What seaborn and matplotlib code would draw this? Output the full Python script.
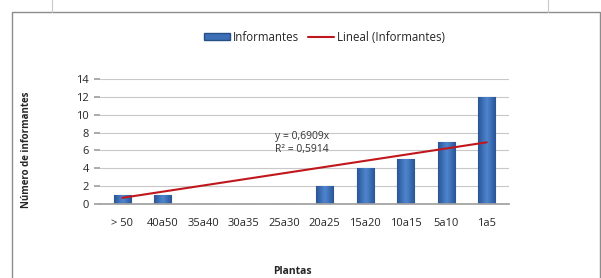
import numpy as np
import pandas as pd
import matplotlib.pyplot as plt
import seaborn as sns
from matplotlib.patches import Rectangle
from matplotlib.lines import Line2D
from matplotlib.colors import LinearSegmentedColormap

# data
plantas = ['> 50', '40a50', '35a40', '30a35', '25a30', '20a25', '15a20', '10a15', '5a10', '1a5']
informantes = [1, 1, 0, 0, 0, 2, 4, 5, 7, 12]
pendiente = 0.6909
r2 = 0.5914

df = pd.DataFrame({'Plantas': plantas, 'Informantes': informantes})

sns.set_theme(style='white')
plt.rcParams['font.family'] = ['Open Sans', 'DejaVu Sans']

fig = plt.figure(figsize=(6.01, 2.78), dpi=100)
ax = fig.add_axes([100 / 601, 1 - 204 / 278, 409 / 601, 125 / 278])

sns.barplot(data=df, x='Plantas', y='Informantes', color='#3C6FB6', edgecolor='#274F86',
            linewidth=0.8, width=0.42, saturation=1, ax=ax)

# shaded look on the bars (dark edges, lighter middle)
shade = LinearSegmentedColormap.from_list('shade', ['#2A5596', '#4F86D0', '#2A5596'])
grad = np.linspace(0, 1, 64).reshape(1, -1)
for bar in ax.patches:
    h = bar.get_height()
    if h <= 0:
        continue
    x0 = bar.get_x()
    im = ax.imshow(grad, cmap=shade, aspect='auto', zorder=bar.get_zorder() + 0.1,
                   extent=(x0, x0 + bar.get_width(), 0, h))
    im.set_clip_path(bar)

# linear trend through origin, x = 1..n
xs = np.arange(len(plantas))
ax.plot(xs, pendiente * (xs + 1), color='#C0171C', lw=1.5, zorder=5)

ax.set_ylim(0, 14)
ax.set_yticks(range(0, 15, 2))
ax.set_xlim(-0.55, len(plantas) - 0.45)
ax.yaxis.grid(True, color='#c8c8c8', lw=0.8)
ax.set_axisbelow(True)
for s in ['top', 'right', 'left']:
    ax.spines[s].set_visible(False)
ax.spines['bottom'].set_color('#a0a0a0')
ax.tick_params(axis='y', length=4, color='#a0a0a0', labelsize=8, pad=4, left=True)
ax.tick_params(axis='x', length=0, labelsize=8, pad=10)
ax.set_xlabel('')
ax.set_ylabel('')

ax.text(3.76, 6.8, 'y = 0,6909x\nR² = 0,5914', fontsize=7.5, color='#333333',
        linespacing=1.3, va='center', zorder=6)

fig.text(27 / 601, 1 - 150 / 278, 'Número de informantes', rotation=90, fontsize=7,
         fontweight='bold', ha='center', va='center')
fig.text(292 / 601, 1 - 272 / 278, 'Plantas', fontsize=7.5, fontweight='bold',
         ha='center', va='center')

handles = [Rectangle((0, 0), 1, 1, facecolor='#3C6FB6', edgecolor='#274F86'),
           Line2D([0], [0], color='#C0171C', lw=1.5)]
fig.legend(handles, ['Informantes', 'Lineal (Informantes)'], loc='center',
           bbox_to_anchor=(324 / 601, 1 - 37 / 278), ncol=2, frameon=False,
           fontsize=8.3, handlelength=2.3, handleheight=0.5, columnspacing=0.8,
           handletextpad=0.2)

# chart frame and page margin marks
fig.patches.append(Rectangle((12 / 601, -0.1), 588 / 601, 1.1 - 12 / 278,
                             transform=fig.transFigure, fill=False,
                             edgecolor='#8c8c8c', lw=1))
fig.lines.append(Line2D([52 / 601, 52 / 601], [1, 1 - 12 / 278],
                        transform=fig.transFigure, color='#c8c8c8', lw=0.8))
fig.lines.append(Line2D([548 / 601, 548 / 601], [1, 1 - 12 / 278],
                        transform=fig.transFigure, color='#c8c8c8', lw=0.8))

fig.savefig('out.png', dpi=100)
